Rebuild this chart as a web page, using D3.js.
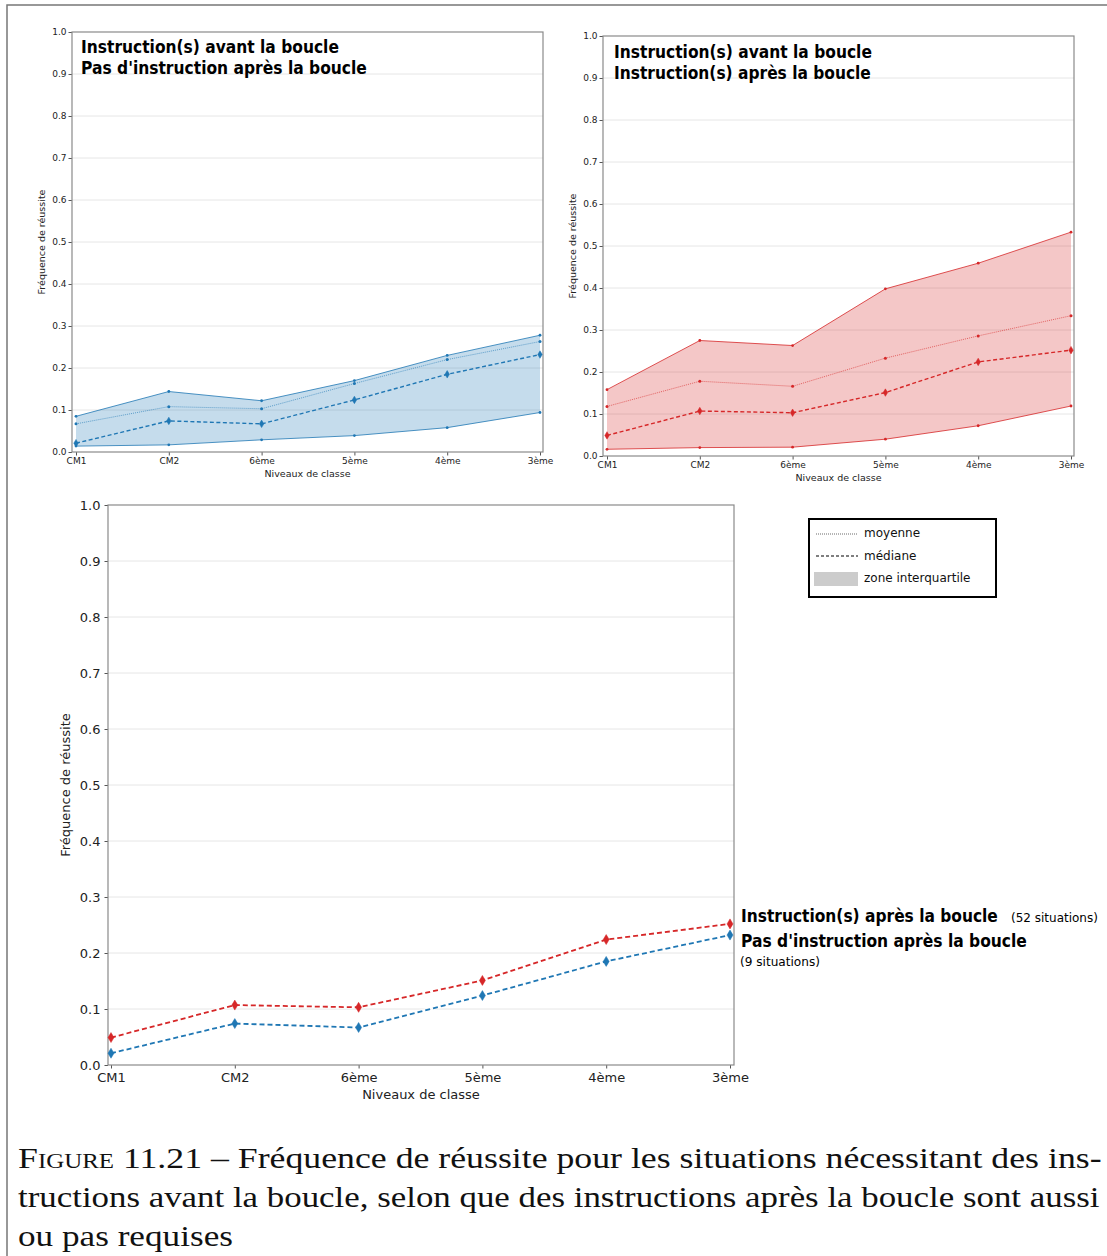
<!DOCTYPE html>
<html><head><meta charset="utf-8">
<script src="https://cdn.jsdelivr.net/npm/d3@7"></script>
<style>body{margin:0;background:#fff;overflow:hidden}svg{display:block}</style>
</head><body>
<svg id="c" width="1107" height="1256"></svg>
<script>
const levels = ["CM1","CM2","6ème","5ème","4ème","3ème"];
const yTicks = [0,0.1,0.2,0.3,0.4,0.5,0.6,0.7,0.8,0.9,1.0];

// Pas d'instruction après la boucle (9 situations)
const noAfterUpper  = [0.085,0.144,0.122,0.170,0.230,0.278];
const noAfterMean   = [0.067,0.108,0.103,0.163,0.220,0.263];
const noAfterMedian = [0.021,0.074,0.067,0.124,0.185,0.232];
const noAfterLower  = [0.014,0.017,0.029,0.039,0.058,0.094];

// Instruction(s) après la boucle (52 situations)
const afterUpper  = [0.158,0.275,0.263,0.398,0.459,0.533];
const afterMean   = [0.118,0.178,0.166,0.233,0.286,0.334];
const afterMedian = [0.049,0.107,0.103,0.151,0.224,0.252];
const afterLower  = [0.016,0.020,0.021,0.040,0.072,0.119];

const BLUE = "#1f77b4", RED = "#d62728";
const svg = d3.select("#c");
const F = "'DejaVu Sans', sans-serif";

svg.append("path").attr("d","M7,1260 V5 H1110").attr("fill","none").attr("stroke","#777").attr("stroke-width",1.5);

// stretch a text horizontally to a target width using a transform
function fitText(sel, xp, yp, target){
  const w = sel.node().getComputedTextLength();
  sel.attr("x",0).attr("y",0).attr("transform",`translate(${xp},${yp}) scale(${target/w},1)`);
  return sel;
}

function panel(o){
  const g = svg.append("g");
  const x = d3.scalePoint().domain(levels).range(o.xr);
  const y = d3.scaleLinear().domain([0,1]).range([o.y1,o.y0]);
  g.selectAll(".gr").data(yTicks.slice(1,-1)).join("line")
    .attr("x1",o.x0).attr("x2",o.x1).attr("y1",d=>y(d)).attr("y2",d=>y(d))
    .attr("stroke","#e6e6e6").attr("stroke-width",1);
  const ya = d3.axisLeft(y).tickValues(yTicks).tickFormat(d3.format(".1f")).tickSize(3.5).tickPadding(o.ypad);
  const ay = g.append("g").attr("transform",`translate(${o.x0},0)`).call(ya);
  const xa = d3.axisBottom(x).tickSize(3.5).tickPadding(o.xpad);
  const ax = g.append("g").attr("transform",`translate(0,${o.y1})`).call(xa);
  [ay,ax].forEach(a=>{a.select(".domain").remove();
    a.selectAll("line").attr("stroke","#555");
    a.selectAll("text").attr("font-family",F).attr("font-size",o.fs).attr("fill","#222");});
  g.append("rect").attr("x",o.x0).attr("y",o.y0).attr("width",o.x1-o.x0).attr("height",o.y1-o.y0)
    .attr("fill","none").attr("stroke","#8a8a8a").attr("stroke-width",1.2);
  g.append("text").attr("x",(o.x0+o.x1)/2).attr("y",o.xlY).attr("text-anchor","middle")
    .attr("font-family",F).attr("font-size",o.lfs).attr("fill","#222").text("Niveaux de classe");
  g.append("text").attr("transform",`translate(${o.ylX},${(o.y0+o.y1)/2}) rotate(-90)`).attr("text-anchor","middle")
    .attr("font-family",F).attr("font-size",o.lfs).attr("fill","#222").text("Fréquence de réussite");
  return {g,x,y};
}

function diamonds(g,x,y,vals,color,w,h){
  g.selectAll(null).data(vals).join("path")
    .attr("d",(d,i)=>{const cx=x(levels[i]),cy=y(d);return `M${cx},${cy-h/2} L${cx+w/2},${cy} L${cx},${cy+h/2} L${cx-w/2},${cy} Z`;})
    .attr("fill",color).attr("stroke",color).attr("stroke-width",0.5);
}

function band(p,up,mean,med,low,color,fill){
  const {g,x,y} = p;
  const area = d3.area().x((d,i)=>x(levels[i])).y0((d,i)=>y(low[i])).y1(d=>y(d));
  g.append("path").datum(up).attr("d",area).attr("fill",fill).attr("stroke","none");
  const line = d3.line().x((d,i)=>x(levels[i])).y(d=>y(d));
  [up,low].forEach(s=>{
    g.append("path").datum(s).attr("d",line).attr("fill","none").attr("stroke",color).attr("stroke-width",0.8);
    g.selectAll(null).data(s).join("circle").attr("cx",(d,i)=>x(levels[i])).attr("cy",d=>y(d)).attr("r",1.4).attr("fill",color);
  });
  g.append("path").datum(mean).attr("d",line).attr("fill","none").attr("stroke",color).attr("stroke-width",0.8)
    .attr("stroke-dasharray","1,1").attr("opacity",0.8);
  g.selectAll(null).data(mean).join("circle").attr("cx",(d,i)=>x(levels[i])).attr("cy",d=>y(d)).attr("r",1.5).attr("fill",color);
  g.append("path").datum(med).attr("d",line).attr("fill","none").attr("stroke",color).attr("stroke-width",1.4)
    .attr("stroke-dasharray","4,2.5");
  diamonds(g,x,y,med,color,4.5,7.5);
}

function boldText(g,xp,yp,t,len){
  const s = g.append("text").attr("font-family",F)
    .attr("font-weight","bold").attr("font-size",17).attr("fill","#000").text(t);
  fitText(s,xp,yp,len);
}

// top-left
const p1 = panel({x0:72,x1:543,y0:32,y1:452,xr:[76,540],fs:9,lfs:9.5,xlY:477,ylX:45,ypad:2,xpad:2.5});
band(p1,noAfterUpper,noAfterMean,noAfterMedian,noAfterLower,BLUE,"rgba(31,119,180,0.26)");
boldText(p1.g,81,53,"Instruction(s) avant la boucle",258);
boldText(p1.g,81,74,"Pas d'instruction après la boucle",286);

// top-right
const p2 = panel({x0:603,x1:1074,y0:36,y1:456,xr:[607,1071],fs:9,lfs:9.5,xlY:481,ylX:576,ypad:2,xpad:2.5});
band(p2,afterUpper,afterMean,afterMedian,afterLower,RED,"rgba(214,39,40,0.26)");
boldText(p2.g,614,58,"Instruction(s) avant la boucle",258);
boldText(p2.g,614,79,"Instruction(s) après la boucle",257);

// bottom
const p3 = panel({x0:108,x1:734,y0:505,y1:1065,xr:[111,730],fs:13,lfs:13,xlY:1099,ylX:70,ypad:4,xpad:4});
{
  const {g,x,y} = p3;
  const line = d3.line().x((d,i)=>x(levels[i])).y(d=>y(d));
  [[afterMedian,RED],[noAfterMedian,BLUE]].forEach(([s,c])=>{
    g.append("path").datum(s).attr("d",line).attr("fill","none").attr("stroke","#fff").attr("stroke-width",4).attr("opacity",0.6);
    g.append("path").datum(s).attr("d",line).attr("fill","none").attr("stroke",c).attr("stroke-width",1.8).attr("stroke-dasharray","5,3");
    diamonds(g,x,y,s,c,6,10);
  });
  boldText(g,741,922,"Instruction(s) après la boucle",257);
  fitText(g.append("text").attr("font-family",F).attr("font-size",13).text("(52 situations)"),1011,922,87);
  boldText(g,741,947,"Pas d'instruction après la boucle",286);
  fitText(g.append("text").attr("font-family",F).attr("font-size",13).text("(9 situations)"),740,966,80);
}

// legend
{
  const lg = svg.append("g");
  lg.append("rect").attr("x",809).attr("y",519).attr("width",187).attr("height",78).attr("fill","#fff").attr("stroke","#000").attr("stroke-width",2);
  lg.append("line").attr("x1",816).attr("x2",858).attr("y1",534).attr("y2",534).attr("stroke","#444").attr("stroke-width",0.8).attr("stroke-dasharray","1,1");
  lg.append("line").attr("x1",816).attr("x2",858).attr("y1",556).attr("y2",556).attr("stroke","#000").attr("stroke-width",1.2).attr("stroke-dasharray","3,2");
  lg.append("rect").attr("x",814).attr("y",572).attr("width",44).attr("height",14).attr("fill","#cccccc");
  [["moyenne",864,537],["médiane",864,560],["zone interquartile",864,582]].forEach(([t,xx,yy])=>
    lg.append("text").attr("x",xx).attr("y",yy).attr("font-family",F).attr("font-size",12).attr("fill","#111").text(t));
}

// caption
{
  const cap = svg.append("g").attr("font-family","'Liberation Serif', serif").attr("font-size",30).attr("fill","#111");
  const l1 = cap.append("text");
  l1.append("tspan").attr("font-variant","small-caps").text("Figure");
  l1.append("tspan").text(" 11.21 – Fréquence de réussite pour les situations nécessitant des ins-");
  fitText(l1,18,1168,1084);
  fitText(cap.append("text").text("tructions avant la boucle, selon que des instructions après la boucle sont aussi"),18,1207,1082);
  fitText(cap.append("text").text("ou pas requises"),18,1246,215);
}
</script>
</body></html>
